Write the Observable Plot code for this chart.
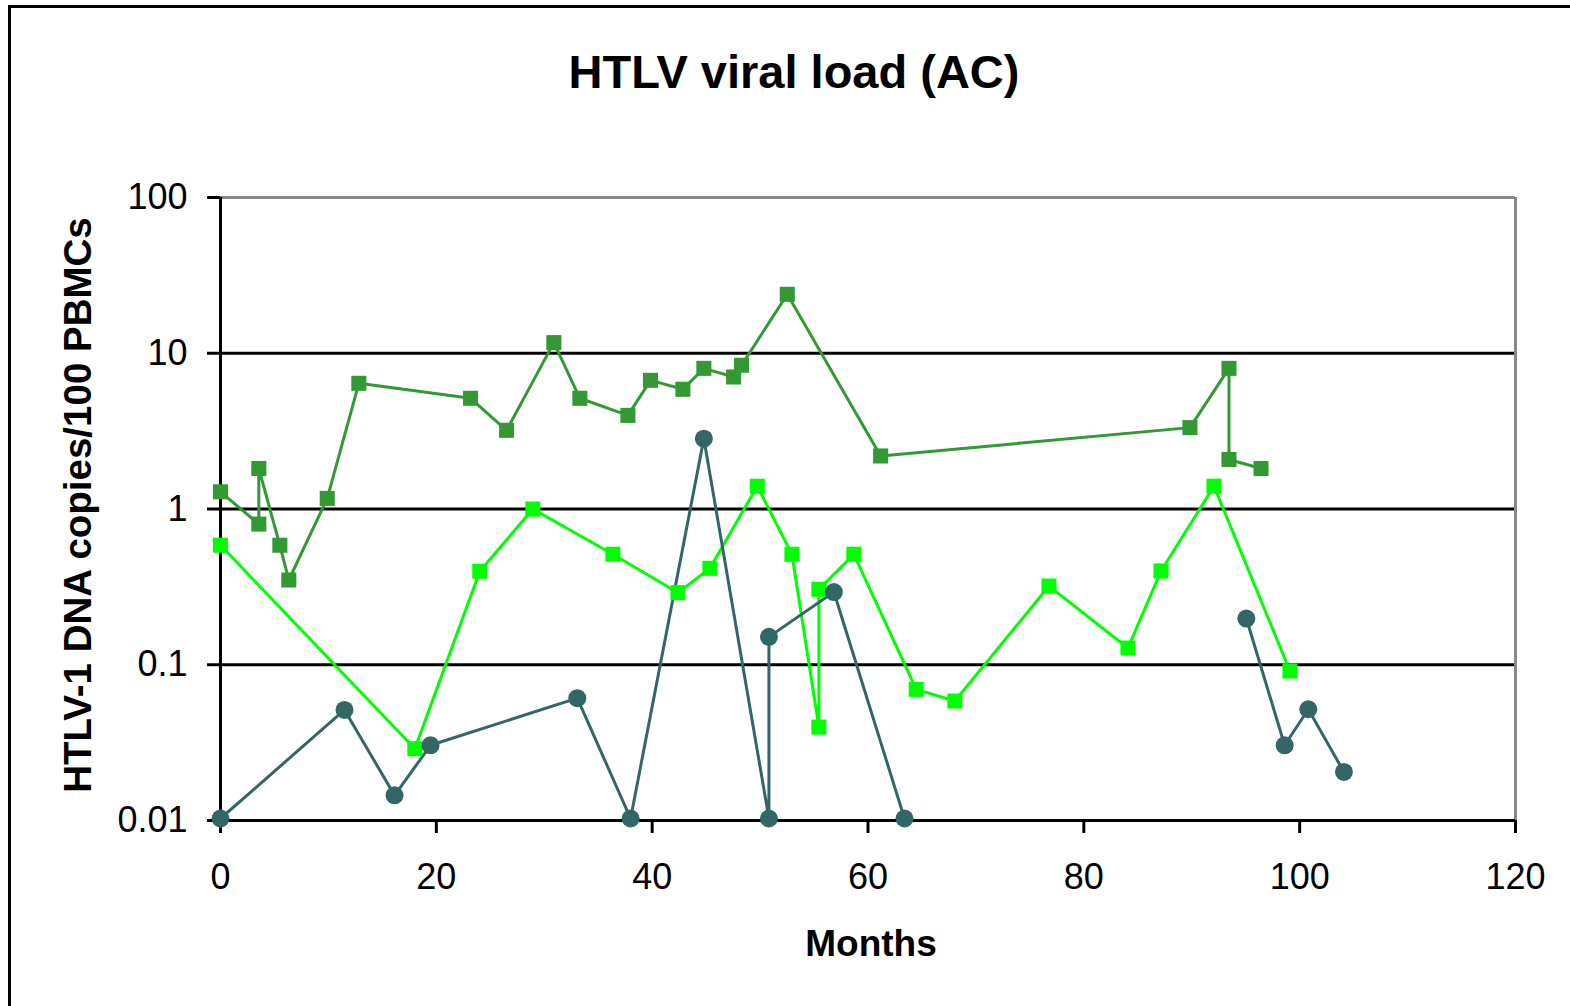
<!DOCTYPE html>
<html>
<head>
<meta charset="utf-8">
<script src="https://cdn.jsdelivr.net/npm/d3@7"></script>
<script src="https://cdn.jsdelivr.net/npm/@observablehq/plot@0.6"></script>
<style>
  html, body { margin: 0; padding: 0; background: #fff; overflow: hidden; width: 1570px; height: 1006px; }
  #wrap { position: relative; width: 1570px; height: 1006px; font-family: "Liberation Sans", Arial, sans-serif; }
  #frame { position: absolute; left: 8px; top: 5px; width: 2000px; height: 2000px; border: 3px solid #000; box-sizing: border-box; pointer-events: none; }
  #title { position: relative; height: 130px; box-sizing: border-box; padding-top: 49px; padding-left: 18px; text-align: center; font-size: 47px; line-height: 46px; font-weight: bold; color: #000; }
  #chart svg [aria-label$="tick"] path, #chart svg .tick line { stroke-width: 3px; stroke: #000; }
</style>
</head>
<body>
<div id="wrap">
  <div id="frame"></div>
  <div id="title"></div>
  <div id="chart"></div>
</div>
<script>
const chartTitle = "HTLV viral load (AC)";
const xLabel = "Months";
const yLabel = "HTLV-1 DNA copies/100 PBMCs";

const xTicks = [0, 20, 40, 60, 80, 100, 120];
const yTicks = [0.01, 0.1, 1, 10, 100];
const gridValues = [0.1, 1, 10];

// Series 1: dark green squares
const darkMonths = [0, 3.55, 3.55, 5.5, 6.33, 9.89, 12.82, 23.17, 26.51, 30.89, 33.3, 37.75, 39.85, 42.85, 44.79, 47.55, 48.28, 52.52, 61.17, 89.83, 93.45, 93.45, 96.42];
const darkValues = [1.29, 0.80, 1.82, 0.585, 0.35, 1.17, 6.41, 5.14, 3.2, 11.7, 5.14, 3.99, 6.7, 5.87, 8.0, 7.04, 8.37, 23.9, 2.19, 3.33, 8.0, 2.08, 1.82];

// Series 2: bright green squares
const brightMonths = [0, 18.01, 24.03, 28.94, 36.36, 42.39, 45.35, 49.74, 52.95, 55.45, 55.45, 58.69, 64.47, 68.05, 76.77, 84.09, 87.15, 92.06, 99.10];
const brightValues = [0.585, 0.0289, 0.398, 1.0, 0.512, 0.29, 0.416, 1.40, 0.512, 0.0398, 0.305, 0.512, 0.0695, 0.0585, 0.32, 0.128, 0.40, 1.40, 0.0912];

// Series 3: dark slate circles (two separate runs)
const slateMonths = [0, 11.49, 16.13, 19.46, 33.06, 38.0, 44.79, 50.82, 50.82, 56.84, 63.38, 95.06, 98.61, 100.80, 104.1];
const slateValues = [0.0103, 0.0513, 0.0145, 0.0304, 0.061, 0.0103, 2.83, 0.0103, 0.151, 0.293, 0.0103, 0.198, 0.0304, 0.0518, 0.0205];
const slateRuns = [1, 1, 1, 1, 1, 1, 1, 1, 1, 1, 1, 2, 2, 2, 2];

const colors = { dark: "#339933", bright: "#00FF00", slate: "#336666" };

const dark = darkMonths.map((m, i) => ({ month: m, value: darkValues[i] }));
const bright = brightMonths.map((m, i) => ({ month: m, value: brightValues[i] }));
const slate = slateMonths.map((m, i) => ({ month: m, value: slateValues[i], run: slateRuns[i] }));

document.getElementById("title").textContent = chartTitle;

const plot = Plot.plot({
  width: 1570,
  height: 876,
  marginLeft: 220,
  marginRight: 55,
  marginTop: 67,
  marginBottom: 186,
  style: { fontFamily: "'Liberation Sans', Arial, sans-serif", fontSize: "36px", color: "#000", background: "transparent", overflow: "visible" },
  x: { domain: [0, 120], ticks: xTicks, tickSize: 13, tickPadding: 30, label: null },
  y: { type: "log", domain: [0.01, 100], ticks: yTicks, tickFormat: d => String(d), tickSize: 13, tickPadding: 20, label: null },
  marks: [
    Plot.ruleY(gridValues, { stroke: "#000", strokeWidth: 3 }),
    Plot.ruleY([100], { stroke: "#888", strokeWidth: 3 }),
    Plot.ruleX([120], { stroke: "#888", strokeWidth: 3 }),
    Plot.ruleY([0.01], { stroke: "#000", strokeWidth: 3 }),
    Plot.ruleX([0], { stroke: "#000", strokeWidth: 3 }),
    Plot.line(dark, { x: "month", y: "value", stroke: colors.dark, strokeWidth: 3 }),
    Plot.line(bright, { x: "month", y: "value", stroke: colors.bright, strokeWidth: 3 }),
    Plot.line(slate, { x: "month", y: "value", z: "run", stroke: colors.slate, strokeWidth: 3 }),
    Plot.dot(dark, { x: "month", y: "value", symbol: "square", r: 8.5, fill: colors.dark, stroke: "none" }),
    Plot.dot(bright, { x: "month", y: "value", symbol: "square", r: 8.5, fill: colors.bright, stroke: "none" }),
    Plot.dot(slate, { x: "month", y: "value", r: 9, fill: colors.slate, stroke: "none" }),
    Plot.text([xLabel], { frameAnchor: "bottom", text: d => d, textAnchor: "middle", lineAnchor: "middle", dx: 3, dy: 124, fontSize: 37, fontWeight: "bold", fill: "#000" }),
    Plot.text([yLabel], { frameAnchor: "left", text: d => d, textAnchor: "middle", lineAnchor: "middle", rotate: -90, dx: -142, dy: -4, fontSize: 38.5, fontWeight: "bold", fill: "#000" })
  ]
});
document.getElementById("chart").appendChild(plot);
</script>
</body>
</html>
